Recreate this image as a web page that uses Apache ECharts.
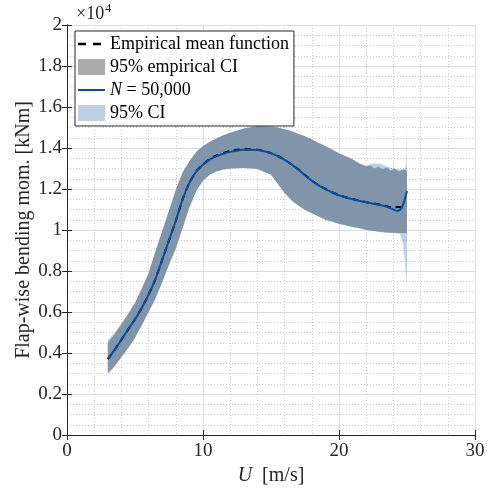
<!DOCTYPE html>
<html><head><meta charset="utf-8">
<script src="https://cdn.jsdelivr.net/npm/echarts/dist/echarts.min.js"></script>
<style>html,body{margin:0;padding:0;background:#fff}#c{width:492px;height:491px}</style>
</head><body><div id="c"></div>
<script>
// ---- data (bending moment in kNm) ----
const meanU = [3,3.5,4,4.5,5,5.5,6,6.5,7,7.5,8,8.5,9,9.5,10,10.5,11,11.5,12,12.5,13,13.5,14,14.5,15,15.5,16,16.5,17,17.5,18,18.5,19,19.5,20,21,22,23,23.5,24,24.25,24.5,24.75,25];
const meanN50k = [3700,4150,4650,5150,5650,6200,6850,7600,8550,9500,10450,11500,12300,12850,13180,13430,13600,13720,13810,13870,13910,13920,13900,13840,13740,13600,13420,13200,12950,12670,12400,12180,11990,11830,11690,11500,11350,11220,11130,11000,10940,10990,11300,11900];
const empMeanU = [3,3.5,4,4.5,5,5.5,6,6.5,7,7.5,8,8.5,9,9.5,10,10.5,11,11.5,12,12.5,13,13.5,14,14.5,15,15.5,16,16.5,17,17.5,18,18.5,19,19.5,20,21,22,23,23.5,24,24.25,24.6];
const empMean = [3700,4150,4650,5150,5650,6200,6850,7600,8550,9500,10450,11500,12300,12860,13200,13460,13640,13760,13850,13910,13940,13940,13910,13850,13750,13610,13430,13210,12960,12680,12410,12190,12000,11840,11700,11510,11360,11240,11160,11100,11120,11110];
const empU  = [3,3.5,4,4.5,5,5.5,6,6.5,7,7.5,8,8.5,9,9.5,10,10.5,11,11.5,12,13,14,15,15.5,16,16.5,17,17.5,18,19,20,21,21.5,22,22.3,22.6,22.9,23.2,23.5,23.8,24.1,24.4,24.7,25];
const empLo = [3000,3350,3800,4250,4750,5350,6000,6650,7450,8300,9100,10100,11100,11900,12400,12700,12850,12950,13000,13020,12970,12700,12250,11800,11450,11200,10980,10820,10500,10300,10150,10080,10000,9980,9950,9930,9900,9880,9870,9860,9850,9850,9850];
const empHi = [4500,4900,5400,5900,6450,7150,7900,8950,9950,10950,11950,12800,13350,13800,14100,14300,14470,14620,14750,14950,15070,15050,15000,14920,14830,14700,14570,14420,14100,13750,13450,13250,13100,13150,13000,13100,12950,13050,12900,13000,12850,12950,12900];
const ciU  = [3,3.5,4,4.5,5,5.5,6,6.5,7,7.5,8,8.5,9,9.5,10,10.5,11,11.5,12,13,14,15,15.5,16,16.5,17,17.5,18,19,20,21,21.5,22,22.5,23,23.5,24,24.5,24.7,24.85,24.95,25];
const ciLo = [3000,3350,3800,4250,4750,5350,6000,6650,7450,8300,9100,10100,11100,11900,12400,12700,12850,12950,13000,13020,12970,12700,12250,11800,11450,11200,10980,10820,10500,10300,10150,10080,10000,9950,9900,9870,9850,9800,9300,8500,7600,7300];
const ciHi = [4630,5000,5450,5920,6450,7150,7900,8950,9950,10950,11950,12800,13350,13800,14100,14300,14470,14620,14750,14950,15070,15050,15000,14920,14830,14700,14570,14420,14100,13750,13450,13250,13150,13250,13250,13100,13000,12950,12950,13000,13300,15000];
const xTickLabels = ['0','10','20','30'];
const yTickLabels = ['0','0.2','0.4','0.6','0.8','1','1.2','1.4','1.6','1.8','2'];

const F = 'Liberation Serif, Times New Roman, serif';
const pairs = (xs, ys) => xs.map((x, i) => [x, ys[i]]);
const triples = (xs, lo, hi) => xs.map((x, i) => [x, lo[i], hi[i]]);

function bandRenderer(fill) {
  return function (params, api) {
    if (params.dataIndexInside !== 0) return null;
    const n = params.dataInsideLength;
    const top = [], bot = [];
    for (let i = 0; i < n; i++) {
      const u = api.value(0, i);
      top.push(api.coord([u, api.value(2, i)]));
      bot.push(api.coord([u, api.value(1, i)]));
    }
    return {type: 'polygon', shape: {points: top.concat(bot.reverse())},
      style: {fill: fill, stroke: null}, silent: true};
  };
}

const chart = echarts.init(document.getElementById('c'), null, {renderer: 'canvas'});
const axisCommon = {
  axisLine: {show: true, lineStyle: {color: '#262626', width: 1}},
  axisTick: {show: true, inside: true, length: 5, lineStyle: {color: '#262626'}},
};
const option = {
  animation: false,
  grid: {left: 67, right: 17, top: 25, bottom: 56},
  xAxis: [{
    type: 'value', min: 0, max: 30, interval: 10, position: 'bottom',
    ...axisCommon,
    axisLabel: {color: '#262626', fontFamily: F, fontSize: 19, margin: 7,
      formatter: v => xTickLabels[Math.round(v / 10)]},
    splitLine: {show: true, lineStyle: {color: '#dedede', width: 1}},
    minorTick: {show: false, splitNumber: 5},
    minorSplitLine: {show: true, lineStyle: {color: '#cdcdcd', width: 1, type: [1, 2]}},
    name: '{i|U}  [m/s]', nameLocation: 'middle', nameGap: 29,
    nameTextStyle: {fontFamily: F, fontSize: 20, color: '#262626',
      rich: {i: {fontFamily: F, fontSize: 20, fontStyle: 'italic', color: '#262626'}}}
  }, {
    type: 'value', min: 0, max: 30, interval: 10, position: 'top',
    ...axisCommon, axisLabel: {show: false}, splitLine: {show: false}
  }],
  yAxis: [{
    type: 'value', min: 0, max: 20000, interval: 2000, position: 'left',
    ...axisCommon,
    axisLabel: {color: '#262626', fontFamily: F, fontSize: 19, margin: 5,
      formatter: v => yTickLabels[Math.round(v / 2000)]},
    splitLine: {show: true, lineStyle: {color: '#dedede', width: 1}},
    minorTick: {show: false, splitNumber: 4},
    minorSplitLine: {show: true, lineStyle: {color: '#cdcdcd', width: 1, type: [1, 2]}},
    name: 'Flap-wise bending mom. [kNm]', nameLocation: 'middle', nameGap: 33,
    nameMoveOverlap: false,
    nameTextStyle: {fontFamily: F, fontSize: 20, color: '#262626'}
  }, {
    type: 'value', min: 0, max: 20000, interval: 2000, position: 'right',
    ...axisCommon, axisLabel: {show: false}, splitLine: {show: false}
  }],
  legend: {
    orient: 'vertical', left: 75, top: 31, padding: [4, 5, 4, 3],
    itemWidth: 27, itemHeight: 16, itemGap: 5, symbolKeepAspect: true,
    backgroundColor: '#fff', borderColor: '#262626', borderWidth: 1, borderRadius: 0,
    textStyle: {fontFamily: F, fontSize: 18, color: '#000',
      rich: {i: {fontFamily: F, fontSize: 18, fontStyle: 'italic', color: '#000'}}},
    formatter: n => n === 'N = 50,000' ? '{i|N} = 50,000' : n,
    data: [
      {name: 'Empirical mean function', icon: 'path://M0,0h8v2.4h-8z M15,0h8v2.4h-8z M27,0h0.01v2.4h-0.01z',
        itemStyle: {color: '#000', borderWidth: 0}},
      {name: '95% empirical CI', icon: 'rect', itemStyle: {color: '#aaaaaa', borderWidth: 0}},
      {name: 'N = 50,000', icon: 'path://M0,0h27v2h-27z', itemStyle: {color: '#0a4f9e', borderWidth: 0}},
      {name: '95% CI', icon: 'rect', itemStyle: {color: '#bcd0e6', borderWidth: 0}}
    ]
  },
  graphic: [{
    type: 'text', left: 76, top: 3,
    style: {text: '×10{s|4}', font: '18px ' + F, fill: '#262626',
      rich: {s: {fontSize: 12, fontFamily: F, verticalAlign: 'top', padding: [0, 0, 10, 1], fill: '#262626'}}}
  }],
  series: [
    {name: '95% empirical CI', type: 'custom', data: triples(empU, empLo, empHi),
      encode: {x: 0, y: [1, 2]}, itemStyle: {color: '#aaaaaa'},
      renderItem: bandRenderer('#aaaaaa'), silent: true, z: 1},
    {name: '95% CI', type: 'custom', data: triples(ciU, ciLo, ciHi),
      encode: {x: 0, y: [1, 2]}, itemStyle: {color: '#bcd0e6'},
      renderItem: bandRenderer('rgba(27,95,170,0.294)'), silent: true, z: 2},
    {name: 'Empirical mean function', type: 'line', data: pairs(empMeanU, empMean), symbol: 'none', showSymbol: false, smooth: 0.2,
      lineStyle: {color: '#000', width: 2, type: [6, 5]}, itemStyle: {color: '#000'}, z: 3},
    {name: 'N = 50,000', type: 'line', data: pairs(meanU, meanN50k), symbol: 'none', showSymbol: false, smooth: 0.2,
      lineStyle: {color: '#0a4f9e', width: 2}, itemStyle: {color: '#0a4f9e'}, z: 4}
  ]
};
chart.setOption(option);
</script>
</body></html>
